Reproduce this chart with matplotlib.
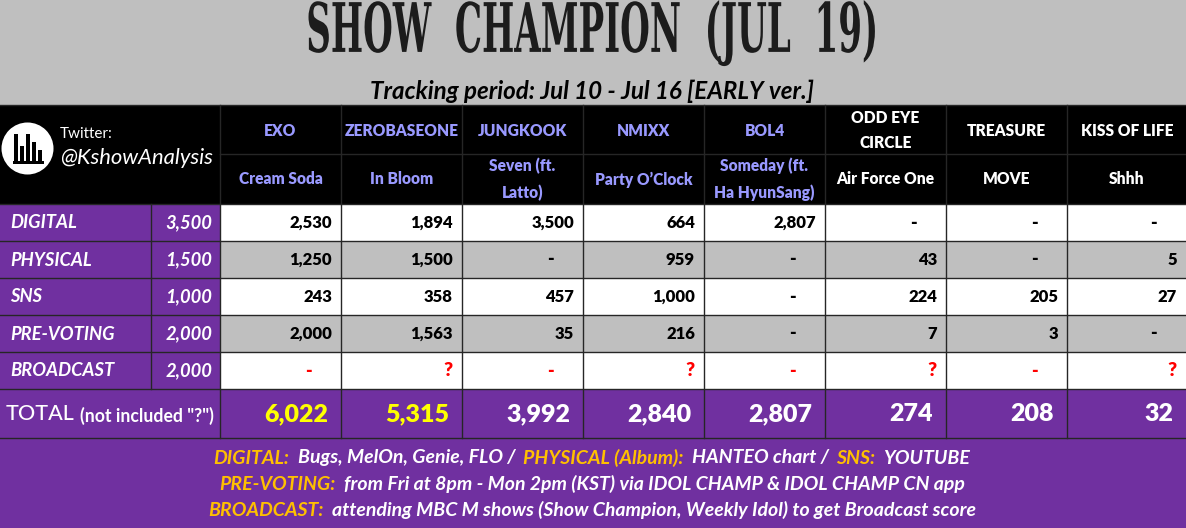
import matplotlib
matplotlib.use('Agg')
import matplotlib.pyplot as plt
from matplotlib.patches import Rectangle, Circle
from matplotlib.patheffects import AbstractPathEffect
from matplotlib.transforms import Affine2D

plt.rcParams['font.family'] = ['Lato', 'DejaVu Sans']

groups = ['EXO', 'ZEROBASEONE', 'JUNGKOOK', 'NMIXX', 'BOL4', 'ODD EYE\nCIRCLE', 'TREASURE', 'KISS OF LIFE']
songs = ['Cream Soda', 'In Bloom', 'Seven (ft.\nLatto)', 'Party O\u2019Clock', 'Someday (ft.\nHa HyunSang)',
         'Air Force One', 'MOVE', 'Shhh']
categories = ['DIGITAL', 'PHYSICAL', 'SNS', 'PRE-VOTING', 'BROADCAST']
max_points = ['3,500', '1,500', '1,000', '2,000', '2,000']

digital = ['2,530', '1,894', '3,500', '664', '2,807', '-', '-', '-']
physical = ['1,250', '1,500', '-', '959', '-', '43', '-', '5']
sns = ['243', '358', '457', '1,000', '-', '224', '205', '27']
prevoting = ['2,000', '1,563', '35', '216', '-', '7', '3', '-']
broadcast = ['-', '?', '-', '?', '-', '?', '-', '?']
totals = ['6,022', '5,315', '3,992', '2,840', '2,807', '274', '208', '32']

rows = [digital, physical, sns, prevoting, broadcast]

PURPLE = '#7030a0'
GREY = '#bfbfbf'
PERIWINKLE = '#9999ff'
ORANGE = '#ffc000'
LINE = '#262626'

col_x = [220, 341, 462, 583, 704, 825, 946, 1067, 1187]
row_y = [204, 241, 278, 315, 352, 389]

fig = plt.figure(figsize=(11.86, 5.28), dpi=100)
ax = fig.add_axes([0, 0, 1, 1])
ax.set_xlim(0, 1186)
ax.set_ylim(528, 0)
ax.axis('off')


class TallText(AbstractPathEffect):
    # the title font is very condensed, no installed family has it, so stretch the glyphs upward
    def __init__(self, scale, y0):
        super().__init__()
        self.scale = scale
        self.y0 = y0

    def draw_path(self, renderer, gc, tpath, affine, rgbFace=None):
        stretch = Affine2D().translate(0, -self.y0).scale(1, self.scale).translate(0, self.y0)
        renderer.draw_path(gc, tpath, affine + stretch, rgbFace)


def box(x0, y0, x1, y1, color):
    ax.add_patch(Rectangle((x0, y0), x1 - x0, y1 - y0, facecolor=color, edgecolor='none', zorder=1))


def mixed_line(parts, y, size):
    # text pieces in different colours, centred as one line
    r = fig.canvas.get_renderer()
    pieces = []
    total = 0
    for s, c in parts:
        t = ax.text(0, y, s, color=c, fontsize=size, fontweight='bold', style='italic', va='center', ha='left', zorder=5)
        w = t.get_window_extent(r).width
        pieces.append((t, w))
        total += w + 8
    x = 592 - (total - 8) / 2
    for t, w in pieces:
        t.set_x(x)
        x += w + 8


# backgrounds
box(0, 0, 1186, 105, GREY)
box(0, 105, 1186, 204, 'black')
box(0, 204, 220, 389, PURPLE)
for i, y in enumerate(row_y[:-1]):
    box(220, y, 1186, row_y[i + 1], GREY if i % 2 else 'white')
box(0, 389, 1186, 528, PURPLE)

# grid lines
for x in col_x[:-1]:
    ax.plot([x, x], [105, 438], color=LINE, lw=1, zorder=2)
ax.plot([151, 151], [204, 389], color=LINE, lw=1, zorder=2)
ax.plot([220, 1186], [154, 154], color=LINE, lw=1, zorder=2)
for y in row_y + [438]:
    ax.plot([0, 1186], [y, y], color=LINE, lw=1, zorder=2)
ax.plot([0, 1186], [105, 105], color=LINE, lw=1, zorder=2)

# title
ax.text(592, 33, 'SHOW  CHAMPION  (JUL  19)', family='DejaVu Serif', stretch='condensed', fontweight='bold',
        fontsize=27.3, color='#1c1c1c', ha='center', va='center', zorder=5,
        path_effects=[TallText(1.8, 528 - 33)])
ax.text(592, 91, 'Tracking period: Jul 10 - Jul 16 [EARLY ver.]', fontsize=17.4, fontweight='bold', style='italic',
        color='black', ha='center', va='center', zorder=5)

# logo
ax.add_patch(Circle((27.5, 148.5), 26, facecolor='white', edgecolor='none', zorder=3))
for x, top in zip([14, 20, 26, 32, 38], [134, 146, 134, 142, 150]):
    ax.add_patch(Rectangle((x, top), 4, 162 - top, facecolor='black', zorder=4))
ax.add_patch(Rectangle((13, 161), 31, 2.5, facecolor='black', zorder=4))
ax.text(60, 134, 'Twitter:', color='white', fontsize=11, va='center', ha='left', zorder=5)
ax.text(60, 158, '@KshowAnalysis', color='white', fontsize=15.8, style='italic', va='center', ha='left', zorder=5)

# group and song headers
for i in range(8):
    cx = (col_x[i] + col_x[i + 1]) / 2
    if i == 7:
        cx = 1127
    head_color = PERIWINKLE if i < 5 else 'white'
    ax.text(cx, 130.5, groups[i], color=head_color, fontsize=11.2, fontweight='heavy', ha='center', va='center',
            linespacing=1.75, zorder=5)
    ax.text(cx, 179.5, songs[i], color=head_color, fontsize=11.2, fontweight='heavy', ha='center', va='center',
            linespacing=1.75, zorder=5)

# score rows
for i, cat in enumerate(categories):
    y = (row_y[i] + row_y[i + 1]) / 2 + 0.5
    ax.text(10, y, cat, color='white', fontsize=13.2, fontweight='bold', style='italic', va='center', ha='left', zorder=5)
    ax.text(212, y, max_points[i], color='white', fontsize=13.2, fontweight='bold', style='italic', va='center',
            ha='right', zorder=5)
    for j, val in enumerate(rows[i]):
        right = col_x[j + 1] if j < 7 else 1186
        color = 'red' if i == 4 else 'black'
        if val == '-':
            ax.text(right - 29, y, val, color=color, fontsize=13, fontweight='heavy', va='center', ha='right', zorder=5)
        elif val == '?':
            ax.text(right - 9, y, val, color=color, fontsize=14, fontweight='heavy', va='center', ha='right', zorder=5)
        else:
            ax.text(right - 9, y, val, color=color, fontsize=12, fontweight='heavy', va='center', ha='right', zorder=5)

# total row
ax.text(6, 414, 'TOTAL', color='white', fontsize=15.5, fontweight='medium', va='center', ha='left', zorder=5)
ax.text(80, 415.5, '(not included "?")', color='white', fontsize=12.7, fontweight='bold', va='center', ha='left', zorder=5)
for j, val in enumerate(totals):
    right = col_x[j + 1] if j < 7 else 1186
    ax.text(right - 13, 414, val, color='#ffff00' if j < 2 else 'white', fontsize=18, fontweight='heavy', va='center',
            ha='right', zorder=5)

# notes
mixed_line([('DIGITAL:', ORANGE), ('Bugs, MelOn, Genie, FLO /', 'white'), ('PHYSICAL (Album):', ORANGE),
            ('HANTEO chart /', 'white'), ('SNS:', ORANGE), ('YOUTUBE', 'white')], 458, 14)
mixed_line([('PRE-VOTING:', ORANGE), ('from Fri at 8pm - Mon 2pm (KST) via IDOL CHAMP & IDOL CHAMP CN app', 'white')],
           484, 14)
mixed_line([('BROADCAST:', ORANGE), ('attending MBC M shows (Show Champion, Weekly Idol) to get Broadcast score', 'white')],
           510, 14)

fig.savefig('out.png', dpi=100)
